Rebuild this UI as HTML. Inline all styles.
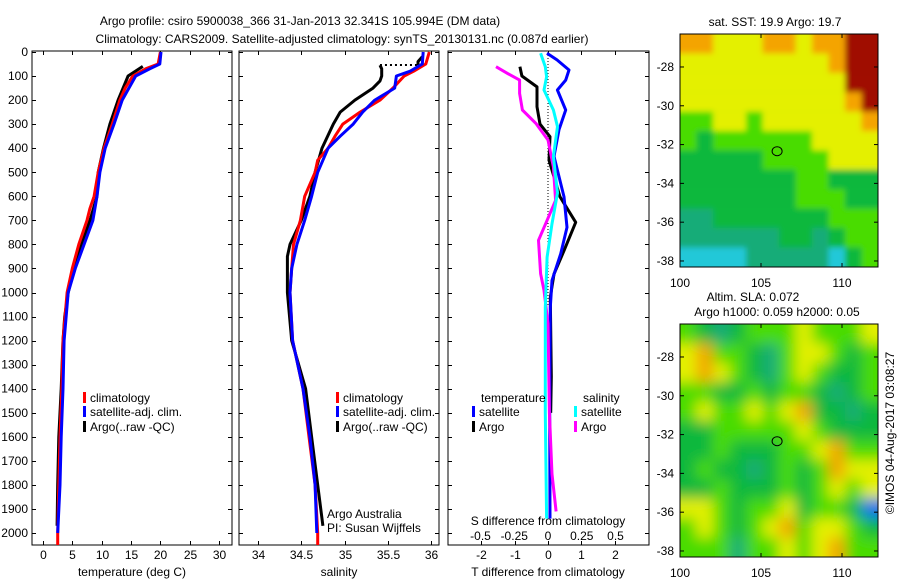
<!DOCTYPE html>
<html><head><meta charset="utf-8">
<style>
html,body{margin:0;padding:0;background:#fff;}
svg{display:block;font-family:"Liberation Sans",sans-serif;}
text{font-size:12px;fill:#000;}
</style></head>
<body>
<svg id="chart" width="900" height="580" viewBox="0 0 900 580" xmlns="http://www.w3.org/2000/svg">
<defs>
<filter id="blurSst" x="0" y="0" width="1" height="1"><feGaussianBlur stdDeviation="3"/></filter>
<filter id="blurSla" x="0" y="0" width="1" height="1"><feGaussianBlur stdDeviation="7"/></filter>
<clipPath id="clipSst"><rect x="680" y="34" width="198" height="233"/></clipPath>
<clipPath id="clipSla"><rect x="680" y="324" width="198" height="233"/></clipPath>
</defs>
<text x="300" y="25" text-anchor="middle">Argo profile: csiro 5900038_366 31-Jan-2013 32.341S 105.994E (DM data)</text>
<text x="342" y="43" text-anchor="middle">Climatology: CARS2009. Satellite-adjusted climatology: synTS_20130131.nc (0.087d earlier)</text>
<g id="g"></g>
</svg>
<script>
// ---------- data ----------
const tClimDepth=[0,50,70,100,150,200,300,400,500,600,650,700,800,900,1000,1200,1400,1600,1800,2000,2050];
const tClimVal=[20,19.6,17.5,15.3,14,13.1,11.8,10.4,9.4,8.7,8,7.5,6.1,5,4.1,3.4,3.2,2.9,2.7,2.5,2.5];
const tSatDepth=[0,50,70,100,200,300,400,500,600,700,800,900,1000,1200,1400,1600,1800,2000];
const tSatVal=[20.1,19.9,18.2,15.8,13.5,12.1,10.6,9.7,9.2,8.5,7,5.5,4.3,3.6,3.4,3.1,2.9,2.5];
const tArgoDepth=[60,100,200,300,400,500,600,700,800,900,1000,1100,1200,1400,1600,1800,1970];
const tArgoVal=[17,14.5,12.8,11.4,10.3,9.4,9.2,8,6.6,5.3,4.3,3.7,3.4,3.1,2.7,2.5,2.4];

const sClimDepth=[0,50,80,100,150,200,250,300,350,400,450,500,600,700,800,900,1000,1200,1400,1600,1800,2000,2050];
const sClimVal=[35.98,35.94,35.8,35.69,35.56,35.41,35.18,34.98,34.89,34.81,34.69,34.66,34.54,34.49,34.41,34.39,34.37,34.4,34.52,34.59,34.66,34.69,34.69];
const sSatDepth=[0,50,80,100,150,200,250,300,350,400,500,600,700,800,900,1000,1200,1400,1600,1800,2000];
const sSatVal=[35.91,35.9,35.76,35.6,35.58,35.35,35.21,35.1,34.95,34.81,34.69,34.62,34.54,34.45,34.39,34.37,34.4,34.52,34.6,34.66,34.68];
const sArgoDepth=[55,70,100,120,150,200,250,300,400,500,600,700,800,850,900,1000,1200,1400,1600,1800,1970];
const sArgoVal=[35.41,35.43,35.43,35.41,35.33,35.12,34.95,34.87,34.74,34.66,34.6,34.5,34.37,34.34,34.34,34.34,34.39,34.55,34.62,34.69,34.75];
const sArgoRawDepth=[20,40,55];
const sArgoRawVal=[35.9,35.85,35.85];

const dTSatDepth=[5,33,75,117,158,241,323,434,602,729,839,950,1062,1500,1940];
const dTSatVal=[-0.03,0.27,0.63,0.53,0.28,0.53,0.33,0.18,0.48,0.57,0.38,0.12,0.07,0.05,0.06];
const dTArgoDepth=[61,100,145,228,300,352,450,602,708,826,923,1020,1350,1500];
const dTArgoVal=[-0.84,-0.78,-0.33,-0.33,-0.24,0.06,0.03,0.36,0.83,0.48,0.18,0.07,0.1,0.08];
const dSSatDepth=[5,61,103,158,241,310,434,586,714,853,1062,1500,1940];
const dSSatVal=[-0.055,-0.02,-0.01,-0.03,0.04,0.07,0.04,0.07,0.03,-0.007,-0.02,-0.02,-0.01];
const dSArgoDepth=[61,89,117,172,241,297,366,478,617,700,783,922,991,1130,1500,1755,1910];
const dSArgoVal=[-0.385,-0.3,-0.21,-0.21,-0.19,-0.09,0,0.04,0.056,-0.007,-0.07,-0.055,-0.03,0,0.01,0.03,0.06];

const depthTicks=[0,100,200,300,400,500,600,700,800,900,1000,1100,1200,1300,1400,1500,1600,1700,1800,1900,2000];
const tTicks=[0,5,10,15,20,25,30];
const sTicks=[34,34.5,35,35.5,36];
const sTickLabels=["34","34.5","35","35.5","36"];
const dTTicks=[-2,-1,0,1,2];
const dSTicks=[-0.5,-0.25,0,0.25,0.5];
const latTicks=[-28,-30,-32,-34,-36,-38];
const lonTicks=[100,105,110];

// map grids (1 deg cells, lon 100..112, lat -26.3..-38.3), colour class 2..9
const sstGrid=[
[8,8,7,7,7,8,8,7,8,8,9,9],
[7,7,7,7,7,7,7,7,7,8,9,9],
[7,7,7,7,7,7,7,7,7,7,9,9],
[7,7,7,7,7,7,7,7,7,7,8,9],
[6,6,7,7,6,7,7,7,7,7,7,8],
[6,5,6,6,6,6,6,6,7,7,7,7],
[5,5,5,5,5,6,6,6,6,7,7,7],
[5,5,5,5,5,5,5,6,6,5,5,5],
[5,5,5,5,5,5,5,6,6,6,5,5],
[4,4,5,5,5,5,5,5,5,6,6,6],
[4,4,4,4,4,4,5,5,4,5,6,6],
[3,3,3,3,4,4,4,4,4,3,5,6]];
const slaGrid=[
[6,5,4,5,6,6,6,7,6,6,6,7],
[7,8,6,6,5,4,6,7,7,6,5,6],
[7,8,7,6,5,4,6,7,6,5,5,6],
[6,6,5,5,6,5,6,6,5,4,5,6],
[6,7,6,6,7,6,7,8,5,5,4,5],
[5,5,6,6,6,6,6,7,6,5,5,5],
[5,5,6,5,5,5,6,6,7,8,6,6],
[5,6,5,5,4,5,6,5,6,8,7,7],
[5,5,6,5,5,5,6,5,6,7,6,7],
[7,7,6,5,6,6,7,5,6,6,5,2],
[6,7,6,5,6,7,8,6,7,7,6,5],
[6,6,6,4,6,6,7,6,7,8,6,6]];
const argoLon=105.994, argoLat=-32.341;

// ---------- drawing ----------
const NS="http://www.w3.org/2000/svg";
const G=document.getElementById('g');
function mk(tag,attrs,parent){const e=document.createElementNS(NS,tag);for(const k in attrs)e.setAttribute(k,attrs[k]);(parent||G).appendChild(e);return e;}
function txt(x,y,s,anchor,parent){const t=mk('text',{x:x,y:y,'text-anchor':anchor||'start'},parent);t.textContent=s;return t;}

const yD=d=>52+d*0.2405;
const PT=v=>43+v*5.87;
const PS=v=>258+(v-34)*86.5;
const PDT=v=>548+v*33.4;
const PDS=v=>548+v*135;

function panel(x0,x1,name){
  const r=mk('rect',{x:x0,y:51,width:x1-x0,height:494,fill:'none',stroke:'#000','stroke-width':1});
  
  
  depthTicks.forEach(d=>{const y=Math.round(yD(d))+0.5;mk('line',{x1:x0,x2:x0+4,y1:y,y2:y,stroke:'#000'});mk('line',{x1:x1-4,x2:x1,y1:y,y2:y,stroke:'#000'});});
}
panel(32,232,'temperature-panel');
panel(239,439,'salinity-panel');
panel(448,649,'difference-panel');
depthTicks.forEach(d=>{const t=txt(28,yD(d)+4,String(d),'end');

});

function xticks(vals,labels,f){vals.forEach((v,i)=>{const x=Math.round(f(v))+0.5;mk('line',{x1:x,x2:x,y1:545,y2:541,stroke:'#000'});mk('line',{x1:x,x2:x,y1:51,y2:55,stroke:'#000'});
const t=txt(x,559,labels[i],'middle');

});}
xticks(tTicks,tTicks.map(String),PT);
xticks(sTicks,sTickLabels,PS);
xticks(dTTicks,dTTicks.map(String),PDT);
dSTicks.forEach(v=>{const t=txt(PDS(v),540,String(v),'middle');

});
[[132,'temperature (deg C)','temperature-axis-title'],[339,'salinity','salinity-axis-title'],[548,'T difference from climatology','t-diff-axis-title']].forEach(a=>{const t=txt(a[0],576,a[1],'middle');

});
{const t=txt(548,525,'S difference from climatology','middle');

}

function line(ds,vs,f,color,w,name){
  const pts=ds.map((d,i)=>f(vs[i]).toFixed(1)+','+yD(d).toFixed(1)).join(' ');
  const p=mk('polyline',{points:pts,fill:'none',stroke:color,'stroke-width':w,'stroke-linejoin':'round'});
  
  
}
mk('line',{x1:548,x2:548,y1:yD(0),y2:yD(1060),stroke:'#000','stroke-dasharray':'1,2'});

line(tArgoDepth,tArgoVal,PT,'#000',3,'temperature-argo-line');
line(tClimDepth,tClimVal,PT,'#f00',3,'temperature-climatology-line');
line(tSatDepth,tSatVal,PT,'#00f',3,'temperature-satellite-line');
line(sArgoRawDepth,sArgoRawVal,PS,'#000',3,'salinity-argo-raw-line');
mk('line',{x1:PS(35.41),x2:PS(35.85),y1:yD(54),y2:yD(54),stroke:'#000','stroke-width':2,'stroke-dasharray':'2,3'});
line(sArgoDepth,sArgoVal,PS,'#000',3,'salinity-argo-line');
line(sClimDepth,sClimVal,PS,'#f00',3,'salinity-climatology-line');
line(sSatDepth,sSatVal,PS,'#00f',3,'salinity-satellite-line');
line(dTArgoDepth,dTArgoVal,PDT,'#000',3,'t-diff-argo-line');
line(dTSatDepth,dTSatVal,PDT,'#00f',3,'t-diff-satellite-line');
line(dSArgoDepth,dSArgoVal,PDS,'#f0f',3,'s-diff-argo-line');
line(dSSatDepth,dSSatVal,PDS,'#0ff',3,'s-diff-satellite-line');

function legItem(x,y,color,label,name){
  mk('rect',{x:x,y:y-10,width:3,height:11,fill:color});
  const t=txt(x+7,y,label);
  
  
}
legItem(83,402,'#f00','climatology','legend-climatology');
legItem(83,416,'#00f','satellite-adj. clim.','legend-satellite-adj');
legItem(83,431,'#000','Argo(..raw -QC)','legend-argo');
legItem(336,402,'#f00','climatology','legend-climatology-2');
legItem(336,416,'#00f','satellite-adj. clim.','legend-satellite-adj-2');
legItem(336,431,'#000','Argo(..raw -QC)','legend-argo-2');
{const t=txt(481,402,'temperature');}
{const t=txt(583,402,'salinity');}
legItem(472,416,'#00f','satellite','legend-t-satellite');
legItem(472,431,'#000','Argo','legend-t-argo');
legItem(574,416,'#0ff','satellite','legend-s-satellite');
legItem(574,431,'#f0f','Argo','legend-s-argo');
{const t=txt(327,518,'Argo Australia');}
{const t=txt(327,532,'PI: Susan Wijffels');}

// ---------- maps ----------
const colors={2:'#1070f0',3:'#20c8d8',4:'#14ac78',5:'#0cb83c',6:'#48dc00',7:'#e4f000',8:'#f4a400',9:'#a00800'};
function map(grid,top,clip,filt,name){
  const x0=680,x1=878,bottom=top+233;
  const lonX=l=>680+(l-100)*16.2;
  const latY=l=>top+((-26.3)-l)*19.4;
  const grp=mk('g',{'clip-path':'url(#'+clip+')'});
  const inner=mk('g',{filter:'url(#'+filt+')'},grp);
  mk('rect',{x:x0-20,y:top-20,width:240,height:275,fill:colors[grid[6][6]]},inner);
  grid.forEach((row,r)=>row.forEach((c,ci)=>{
    const cell=mk('rect',{x:x0+ci*16.5-(ci==0?20:0),y:latY(-26.3-r)-(r==0?20:0),width:16.6+(ci==0||ci==11?20:0),height:19.5+(r==0||r==11?20:0),fill:colors[c]},inner);
    
    
  }));
  const fr=mk('rect',{x:x0,y:top,width:x1-x0,height:bottom-top,fill:'none',stroke:'#000'});
  
  
  latTicks.forEach(l=>{const y=latY(l);mk('line',{x1:x0,x2:x0+4,y1:y,y2:y,stroke:'#000'});mk('line',{x1:x1-4,x2:x1,y1:y,y2:y,stroke:'#000'});
    const t=txt(674,y+4,String(l),'end');
    
    });
  lonTicks.forEach(l=>{const x=lonX(l);mk('line',{x1:x,x2:x,y1:bottom,y2:bottom-4,stroke:'#000'});mk('line',{x1:x,x2:x,y1:top,y2:top+4,stroke:'#000'});
    const t=txt(x,bottom+20,String(l),'middle');
    
    });
  const c=mk('ellipse',{cx:lonX(argoLon),cy:latY(argoLat),rx:5,ry:4.5,fill:'none',stroke:'#000','stroke-width':1});
  
  
}
map(sstGrid,34,'clipSst','blurSst','sst-map');
map(slaGrid,324,'clipSla','blurSla','sla-map');
{const t=txt(775,26,'sat. SST: 19.9 Argo: 19.7','middle');}
{const t=txt(753,301,'Altim. SLA: 0.072','middle');}
{const t=txt(777,316,'Argo h1000: 0.059 h2000: 0.05','middle');}
{const t=txt(0,0,'\u00a9IMOS 04-Aug-2017 03:08:27','middle');t.setAttribute('transform','translate(894,433) rotate(-90)');}
</script>
</body></html>
